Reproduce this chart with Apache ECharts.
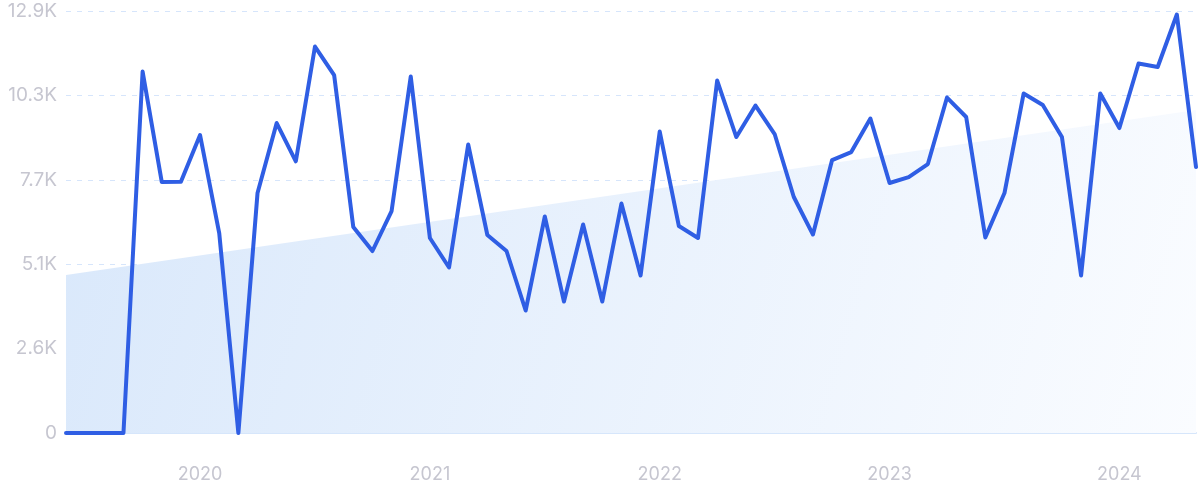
<!DOCTYPE html>
<html>
<head>
<meta charset="utf-8">
<script src="https://cdn.jsdelivr.net/npm/echarts@6/dist/echarts.min.js"></script>
<style>
html,body{margin:0;padding:0;background:#fff;}
#chart{width:1200px;height:499px;}
</style>
</head>
<body>
<div id="chart"></div>
<script>
const months = [
 '2019-06','2019-07','2019-08','2019-09','2019-10','2019-11','2019-12',
 '2020-01','2020-02','2020-03','2020-04','2020-05','2020-06','2020-07','2020-08','2020-09','2020-10','2020-11','2020-12',
 '2021-01','2021-02','2021-03','2021-04','2021-05','2021-06','2021-07','2021-08','2021-09','2021-10','2021-11','2021-12',
 '2022-01','2022-02','2022-03','2022-04','2022-05','2022-06','2022-07','2022-08','2022-09','2022-10','2022-11','2022-12',
 '2023-01','2023-02','2023-03','2023-04','2023-05','2023-06','2023-07','2023-08','2023-09','2023-10','2023-11','2023-12',
 '2024-01','2024-02','2024-03','2024-04','2024-05'
];
const searches = [
 0, 0, 0, 0, 11015, 7650, 7660,
 9080, 6094, 0, 7313, 9446, 8280, 11777, 10908, 6277, 5546, 6764, 10862,
 5942, 5043, 8791, 6033, 5546, 3733, 6597, 4007, 6353, 4007, 6993, 4799,
 9187, 6307, 5942, 10741, 9019, 9979, 9111, 7191, 6048, 8318, 8562, 9583,
 7618, 7800, 8196, 10223, 9629, 5957, 7313, 10345, 9994, 9019, 4799, 10345,
 9293, 11259, 11152, 12752, 8105
];
const trendStart = 4814;
const trendEnd = 9842;
const yTicks = [0, 2572, 5144, 7716, 10288, 12860];

const trend = months.map((m, i) => i === 0 ? trendStart : (i === months.length - 1 ? trendEnd : null));

const chart = echarts.init(document.getElementById('chart'), null, {renderer: 'canvas'});
chart.setOption({
  animation: false,
  grid: {left: 66, right: 4, top: 11, bottom: 66, containLabel: false},
  xAxis: {
    type: 'category',
    data: months,
    boundaryGap: false,
    axisTick: {show: false},
    axisLine: {show: true, lineStyle: {color: '#d6e6fb', width: 2}},
    splitLine: {show: false},
    axisLabel: {
      margin: 33,
      color: '#c6c6d0',
      fontSize: 18,
      fontFamily: 'Inter',
      interval: (idx, val) => val.endsWith('-01'),
      formatter: (val) => val.slice(0, 4)
    }
  },
  yAxis: {
    type: 'value',
    min: yTicks[0],
    max: yTicks[yTicks.length - 1],
    interval: yTicks[1] - yTicks[0],
    axisLine: {show: false},
    axisTick: {show: false},
    splitLine: {show: true, lineStyle: {color: '#d6e5fb', type: [5, 6], width: 1}},
    axisLabel: {
      margin: 9,
      color: '#c6c6d0',
      fontSize: 19,
      fontFamily: 'Inter',
      formatter: (v) => v === 0 ? '0' : (v / 1000).toFixed(1) + 'K'
    }
  },
  series: [
    {
      type: 'line',
      data: trend,
      connectNulls: true,
      showSymbol: false,
      symbol: 'none',
      lineStyle: {width: 0},
      areaStyle: {
        color: new echarts.graphic.LinearGradient(0, 0, 1, 1, [
          {offset: 0, color: '#d9e8fb'},
          {offset: 1, color: '#fafcff'}
        ]),
        opacity: 1
      },
      z: 1
    },
    {
      type: 'line',
      data: searches,
      showSymbol: false,
      symbol: 'none',
      lineStyle: {color: '#2f5ee4', width: 4, join: 'round', cap: 'round'},
      z: 3
    }
  ]
});
</script>
</body>
</html>
